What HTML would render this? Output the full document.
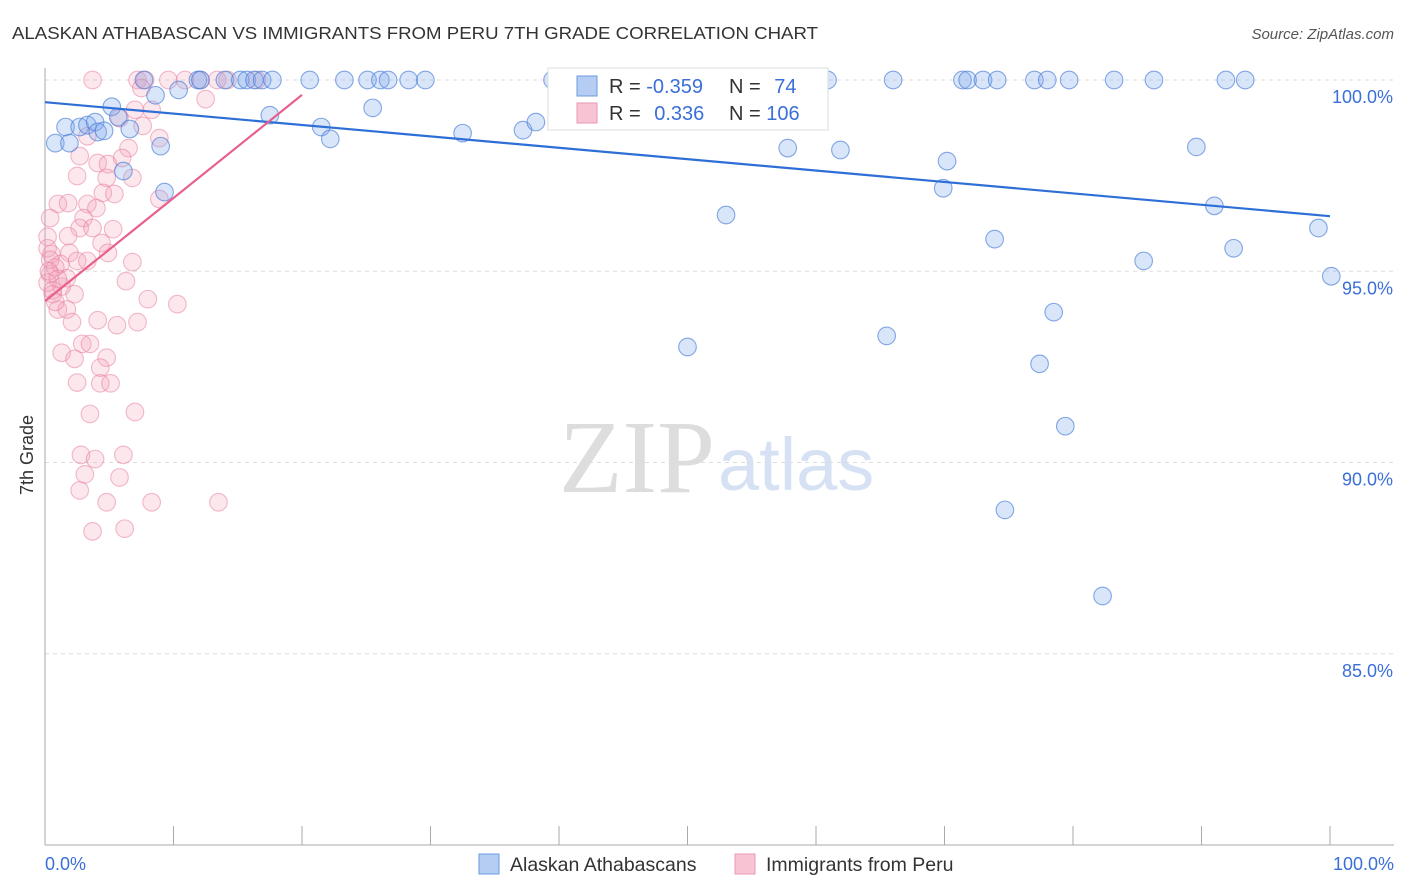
<!DOCTYPE html>
<html><head><meta charset="utf-8"><style>
body{margin:0;background:#fff;font-family:"Liberation Sans",sans-serif}
svg{display:block}
</style></head><body>
<svg id="c" width="1406" height="892" xmlns="http://www.w3.org/2000/svg">
<text x="12" y="39" font-size="17.5" fill="#333" textLength="806" lengthAdjust="spacingAndGlyphs">ALASKAN ATHABASCAN VS IMMIGRANTS FROM PERU 7TH GRADE CORRELATION CHART</text>
<text x="1394" y="39" font-size="15" fill="#555" font-style="italic" text-anchor="end">Source: ZipAtlas.com</text>
<text x="715" y="492" font-size="104" fill="#ddd" font-family="Liberation Serif" text-anchor="end">ZIP</text>
<text x="718" y="490" font-size="74" fill="#d6e2f4">atlas</text>
<text x="33" y="455" font-size="18" fill="#333" transform="rotate(-90 33 455)" text-anchor="middle">7th Grade</text>
<g id="grid"></g><g id="pts"></g><g id="lines"></g>
<g>
<rect x="548" y="68" width="280" height="62" fill="#fff" stroke="#ddd"/>
<rect x="577" y="76" width="20" height="20" fill="#b5cdf2" stroke="#6b9be0"/>
<rect x="577" y="103" width="20" height="20" fill="#f8c4d3" stroke="#ea9ab3"/>
<text x="609" y="93" font-size="20" fill="#333">R = <tspan fill="#3a6fd8">-0.359</tspan></text>
<text x="729" y="93" font-size="20" fill="#333">N = <tspan fill="#3a6fd8" dx="8">74</tspan></text>
<text x="609" y="120" font-size="20" fill="#333">R = <tspan fill="#3a6fd8" dx="8">0.336</tspan></text>
<text x="729" y="120" font-size="20" fill="#333">N = <tspan fill="#3a6fd8">106</tspan></text>
</g>
<g>
<rect x="479" y="854" width="20" height="20" fill="#b5cdf2" stroke="#6b9be0"/>
<text x="510" y="871" font-size="19.5" fill="#333">Alaskan Athabascans</text>
<rect x="735" y="854" width="20" height="20" fill="#f8c4d3" stroke="#ea9ab3"/>
<text x="766" y="871" font-size="19.5" fill="#333">Immigrants from Peru</text>
</g>
</svg>
<script>
const yTicks=[100,95,90,85];
const yTickLabels=["100.0%","95.0%","90.0%","85.0%"];
const xTickLabels=["0.0%","100.0%"];
const blueX=[0.8,1.6,1.9,2.7,3.3,3.9,4.1,4.6,5.2,5.7,6.1,6.6,7.7,8.6,9.0,9.3,10.4,11.9,12.1,14.0,15.2,15.7,16.3,16.9,17.7,17.5,20.6,21.5,22.2,23.3,25.1,25.5,26.1,26.7,28.3,29.6,32.5,37.2,38.2,39.5,41.2,50.0,53.0,57.8,60.9,61.9,65.5,66.0,69.9,70.2,71.4,71.8,73.0,73.9,74.1,74.7,77.0,77.4,78.0,78.5,79.4,79.7,82.3,83.2,85.5,86.3,89.6,91.0,91.9,92.5,93.4,99.1,100.1];
const blueY=[98.35,98.77,98.35,98.77,98.82,98.9,98.64,98.67,99.3,99.03,97.62,98.72,100,99.6,98.27,97.07,99.74,100,100,100,100,100,100,100,100,99.08,100,98.77,98.46,100,100,99.27,100,100,100,100,98.61,98.69,98.9,100,100,93.02,96.47,98.22,100,98.17,93.31,100,97.17,97.88,100,100,100,95.84,100,88.76,100,92.58,100,93.93,90.95,100,86.51,100,95.27,100,98.25,96.71,100,95.6,100,96.13,94.87];
const pinkX=[3.7,7.2,7.8,9.6,10.9,12.1,13.4,14.2,16.5,7.5,12.5,7.0,8.3,5.8,7.6,8.9,3.3,2.7,6.5,6.0,4.1,4.9,2.5,4.8,6.8,4.5,5.4,8.9,1.0,1.8,3.3,4.0,0.4,3.0,2.7,3.7,5.3,1.8,4.4,4.9,0.5,1.9,2.5,3.3,1.2,0.4,1.7,6.8,6.3,2.3,0.6,8.0,10.3,1.0,1.7,2.1,4.1,5.6,7.2,2.9,3.5,1.3,2.3,4.8,4.3,2.5,4.3,5.1,3.5,7.0,2.8,6.1,3.9,3.1,5.8,2.7,4.8,8.3,13.5,3.7,6.2,0.2,0.2,0.4,0.8,0.2,0.8,1.3,0.3,1.0,0.6];
const pinkY=[100,100,100,100,100,100,100,100,100,99.79,99.5,99.22,99.22,99.0,98.8,98.48,98.53,98.01,98.22,97.96,97.83,97.8,97.49,97.44,97.44,97.05,97.02,96.89,96.76,96.78,96.76,96.65,96.39,96.39,96.13,96.13,96.1,95.92,95.74,95.48,95.45,95.48,95.27,95.27,95.19,94.93,94.82,95.24,94.74,94.4,94.4,94.27,94.14,94.0,94.0,93.67,93.72,93.59,93.67,93.1,93.1,92.87,92.71,92.74,92.48,92.09,92.07,92.07,91.27,91.32,90.2,90.2,90.09,89.69,89.61,89.27,88.96,88.96,88.96,88.2,88.27,95.9,95.6,95.3,95.1,94.7,94.2,94.6,95.0,94.8,94.5];
const blueLine=[[0,99.42],[100,96.44]];
const pinkLine=[[0,94.22],[20,99.61]];
const X=v=>45+v*12.85, Y=v=>80+(100-v)*38.25;
const NS="http://www.w3.org/2000/svg";
function mk(t,a,p){const e=document.createElementNS(NS,t);for(const k in a)e.setAttribute(k,a[k]);p.appendChild(e);return e;}
const g=document.getElementById('grid');
yTicks.forEach((t,i)=>{
 const l=mk('line',{x1:45,x2:1394,y1:Y(t),y2:Y(t),stroke:'#ddd','stroke-dasharray':'4 4'},g);
 
 
 const tx=mk('text',{x:1393,y:Y(t)+23,'font-size':18,fill:'#3a6fd8','text-anchor':'end'},g);
 tx.textContent=yTickLabels[i];
 
 
});
const ax=mk('line',{x1:45,x2:45,y1:68,y2:845,stroke:'#aaa'},g);


const bx=mk('line',{x1:45,x2:1394,y1:845,y2:845,stroke:'#aaa'},g);


for(let i=0;i<=10;i++){const t=mk('line',{x1:X(i*10),x2:X(i*10),y1:826,y2:845,stroke:'#aaa'},g);
 
 }
[[0,'start',45],[1,'end',1394]].forEach(([i,a,x])=>{const t=mk('text',{x:x,y:870,'font-size':18,fill:'#3a6fd8','text-anchor':a},g);t.textContent=xTickLabels[i];
 
 });
const p=document.getElementById('pts');
pinkX.forEach((x,i)=>{const c=mk('circle',{cx:X(x),cy:Y(pinkY[i]),r:8.8,fill:'rgba(242,160,185,0.25)',stroke:'rgba(232,130,160,0.55)','stroke-width':1.1},p);
 
 });
blueX.forEach((x,i)=>{const c=mk('circle',{cx:X(x),cy:Y(blueY[i]),r:8.8,fill:'rgba(130,170,235,0.3)',stroke:'rgba(70,125,215,0.65)','stroke-width':1.1},p);
 
 });
const L=document.getElementById('lines');
const b=mk('line',{x1:X(blueLine[0][0]),y1:Y(blueLine[0][1]),x2:X(blueLine[1][0]),y2:Y(blueLine[1][1]),stroke:'#2d6fd6','stroke-width':2.2},L);


const k=mk('line',{x1:X(pinkLine[0][0]),y1:Y(pinkLine[0][1]),x2:X(pinkLine[1][0]),y2:Y(pinkLine[1][1]),stroke:'#e8608c','stroke-width':2.2},L);


</script>
</body></html>
